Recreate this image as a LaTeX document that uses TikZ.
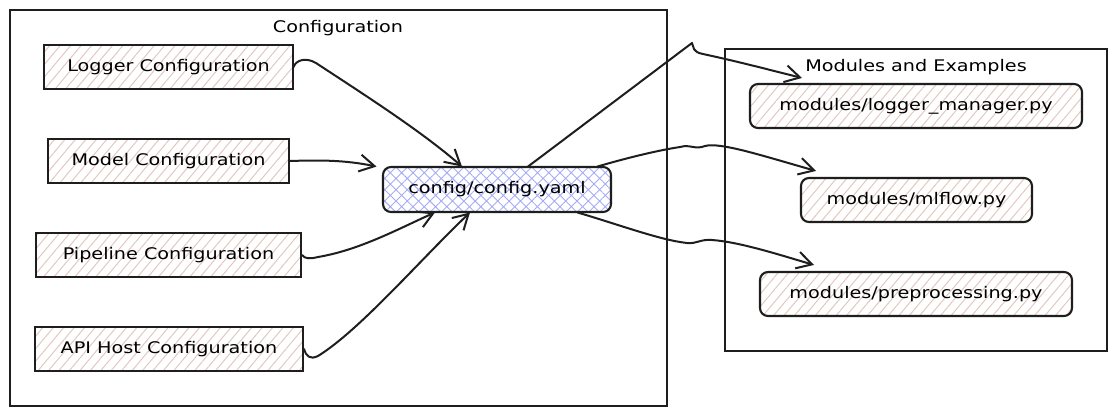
\documentclass[tikz,border=0pt]{standalone}
\usepackage{fontspec}
\setmainfont{DejaVu Sans}[FakeStretch=1.2]
\usetikzlibrary{patterns.meta,arrows.meta}
\definecolor{hatchpink}{RGB}{226,200,190}
\definecolor{hatchblue}{RGB}{165,172,245}
\definecolor{ink}{RGB}{30,30,30}
\tikzset{
  txt/.style={font=\fontsize{16}{18}\selectfont},
  frame/.style={draw=ink, line width=2.1pt},
  cfgbox/.style={draw=ink, line width=2.1pt, minimum height=44pt, inner sep=0pt,
    pattern={Lines[angle=50,distance=8pt,line width=1pt]}, pattern color=hatchpink, txt},
  modbox/.style={cfgbox, rounded corners=8pt},
  yamlbox/.style={draw=ink, line width=2.1pt, minimum height=45pt, inner sep=0pt, rounded corners=8pt,
    pattern={Hatch[angle=45,distance=8pt,line width=0.9pt]}, pattern color=hatchblue, txt},
  title/.style={txt, inner sep=0pt},
  conn/.style={draw=ink, line width=2pt, line cap=round, line join=round,
    -{Straight Barb[length=15pt,width=17pt,line width=2pt]}}
}
\begin{document}
\begin{tikzpicture}[x=1pt,y=-1pt]
\useasboundingbox (0,0) rectangle (1117,416);
% frames
\draw[frame] (10,10) rectangle (667,406);
\draw[frame] (725,49) rectangle (1107,351);
\node[title] (cfgtitle) at (338,28) {Configuration};
\node[title] (modtitle) at (916,67) {Modules and Examples};
% config nodes
\node[cfgbox, minimum width=249pt] (logger) at (168.5,67) {Logger Configuration};
\node[cfgbox, minimum width=241pt] (model) at (168.5,161) {Model Configuration};
\node[cfgbox, minimum width=265pt] (pipeline) at (168.5,255) {Pipeline Configuration};
\node[cfgbox, minimum width=268pt] (api) at (169,349) {API Host Configuration};
\node[yamlbox, minimum width=228pt] (yaml) at (497,189.5) {config/config.yaml};
% module nodes
\node[modbox, minimum width=332pt] (lm) at (916,106) {modules/logger\_manager.py};
\node[modbox, minimum width=231pt] (mlf) at (916.5,200) {modules/mlflow.py};
\node[modbox, minimum width=312pt] (pre) at (916,294) {modules/preprocessing.py};
% left connectors
\draw[conn] (logger.east) .. controls (296,60) and (306,57) .. (316,63)
  .. controls (360,92) and (420,130) .. ([xshift=-35pt]yaml.north);
\draw[conn] (model.east) .. controls (320,160) and (345,160) .. ([xshift=-6pt]yaml.north west);
\draw[conn] (pipeline.east) .. controls (305,259) and (310,259) .. (318,257)
  .. controls (360,250) and (400,228) .. ([xshift=-62pt]yaml.south);
\draw[conn] (api.east) .. controls (306,356) and (310,360) .. (318,356)
  .. controls (360,330) and (420,260) .. ([xshift=-27pt]yaml.south);
% right connectors
\draw[conn] ([xshift=31pt]yaml.north) -- (692,43) .. controls (694,47) and (692,52) .. (703,54)
  .. controls (740,62) and (770,70) .. ([xshift=53pt,yshift=5pt]lm.north west);
\draw[conn] ([xshift=-14pt]yaml.north east) .. controls (630,157) and (660,150) .. (680,147)
  .. controls (690,144) and (695,150) .. (705,146)
  .. controls (720,142) and (760,155) .. ([xshift=16pt,yshift=6pt]mlf.north west);
\draw[conn] ([xshift=-34pt]yaml.south east) .. controls (620,225) and (660,240) .. (687,243)
  .. controls (697,244) and (700,239) .. (712,240)
  .. controls (740,242) and (780,255) .. ([xshift=55pt,yshift=6pt]pre.north west);
\end{tikzpicture}
\end{document}
